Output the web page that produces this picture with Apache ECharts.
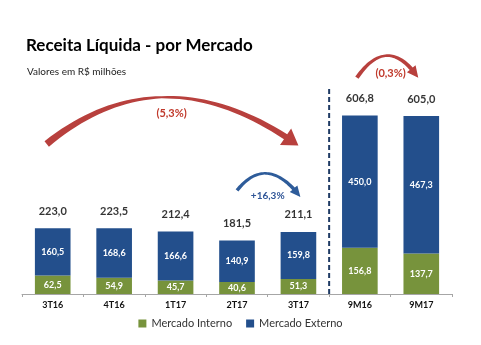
<!DOCTYPE html>
<html>
<head>
<meta charset="utf-8">
<script src="https://cdn.jsdelivr.net/npm/echarts@6/dist/echarts.min.js"></script>
<style>
  html, body { margin: 0; padding: 0; background: #fff; }
  #chart { width: 481px; height: 345px; }
</style>
</head>
<body>
<div id="chart"></div>
<script>
// Receita líquida por mercado (R$ milhões)
const categories = ['3T16', '4T16', '1T17', '2T17', '3T17', '9M16', '9M17'];
const mercadoInterno = [62.5, 54.9, 45.7, 40.6, 51.3, 156.8, 137.7];
const mercadoExterno = [160.5, 168.6, 166.6, 140.9, 159.8, 450.0, 467.3];
const totais = [223.0, 223.5, 212.4, 181.5, 211.1, 606.8, 605.0];

// Variações destacadas com setas
const variacoes = [
  { texto: '(5,3%)', de: 0, para: 4, cor: '#B8403D', corTexto: '#C0392B' },
  { texto: '+16,3%', de: 3, para: 4, cor: '#2E5C9A', corTexto: '#2F5597' },
  { texto: '(0,3%)', de: 5, para: 6, cor: '#B8403D', corTexto: '#C0392B' }
];

const VERDE = '#77933C';
const AZUL = '#234F8C';
const FONTE = 'Lato, "Open Sans", sans-serif';

const fmt = v => v.toFixed(1).replace('.', ',');

const chart = echarts.init(document.getElementById('chart'), null, { renderer: 'canvas' });

chart.setOption({
  animation: false,
  backgroundColor: '#ffffff',
  title: [
    {
      text: 'Receita Líquida - por Mercado',
      left: 21, top: 32,
      textStyle: { fontFamily: FONTE, fontSize: 17, fontWeight: 'bold', color: '#000' }
    },
    {
      text: 'Valores em R$ milhões',
      left: 22, top: 62,
      textStyle: { fontFamily: FONTE, fontSize: 10, fontWeight: 'normal', color: '#222' }
    }
  ],
  legend: {
    data: ['Mercado Interno', 'Mercado Externo'],
    bottom: 11,
    left: 'center',
    itemWidth: 8, itemHeight: 8,
    itemGap: 14,
    icon: 'rect',
    textStyle: { fontFamily: FONTE, fontSize: 11, color: '#333' }
  },
  grid: { left: 22, right: 29, top: 88, bottom: 51 },
  xAxis: {
    type: 'category',
    data: categories,
    axisLine: { lineStyle: { color: '#a6a6a6', width: 1 } },
    axisTick: { show: true, length: 3, lineStyle: { color: '#a6a6a6' } },
    axisLabel: { fontFamily: FONTE, fontSize: 9, fontWeight: 'bold', color: '#111', margin: 7 }
  },
  yAxis: {
    type: 'value', min: 0, max: 700,
    show: false, splitLine: { show: false }
  },
  series: [
    {
      name: 'Mercado Interno', type: 'bar', stack: 'receita',
      data: mercadoInterno, barWidth: '58%',
      itemStyle: { color: VERDE },
      label: {
        show: true, position: 'inside', formatter: p => fmt(p.value),
        color: '#fff', fontFamily: FONTE, fontSize: 9, fontWeight: 'bold'
      }
    },
    {
      name: 'Mercado Externo', type: 'bar', stack: 'receita',
      data: mercadoExterno, barWidth: '58%',
      itemStyle: { color: AZUL },
      label: {
        show: true, position: 'inside', formatter: p => fmt(p.value),
        color: '#fff', fontFamily: FONTE, fontSize: 9, fontWeight: 'bold'
      }
    },
    {
      name: 'Total', type: 'scatter',
      data: totais, symbolSize: 1,
      itemStyle: { color: 'rgba(0,0,0,0)' },
      label: {
        show: true, position: 'top', distance: 11, formatter: p => fmt(p.value),
        color: '#000', fontFamily: FONTE, fontSize: 11, fontWeight: 'bold'
      },
      silent: true
    }
  ]
});

// Conversão de coordenadas de dados para pixels
const pt = (i, v) => chart.convertToPixel({ xAxisIndex: 0, yAxisIndex: 0 }, [i, v]);

// Seta curva afunilada (curva quadrática com ponta triangular)
function seta(p0, c, p2, w0, wm, w1, headLen, headW) {
  const q = t => [
    (1 - t) * (1 - t) * p0[0] + 2 * (1 - t) * t * c[0] + t * t * p2[0],
    (1 - t) * (1 - t) * p0[1] + 2 * (1 - t) * t * c[1] + t * t * p2[1]
  ];
  const d = t => [
    2 * (1 - t) * (c[0] - p0[0]) + 2 * t * (p2[0] - c[0]),
    2 * (1 - t) * (c[1] - p0[1]) + 2 * t * (p2[1] - c[1])
  ];
  let L = 0, prev = q(0);
  for (let i = 1; i <= 60; i++) {
    const cur = q(i / 60);
    L += Math.hypot(cur[0] - prev[0], cur[1] - prev[1]);
    prev = cur;
  }
  const tEnd = 1 - headLen / L;
  const w = t => {
    const m = 0.5 * tEnd;
    if (t < m) { const s = t / m; return w0 + (wm - w0) * s; }
    const s = (t - m) / (tEnd - m);
    return wm + (w1 - wm) * s;
  };
  const left = [], right = [];
  const N = 40;
  for (let i = 0; i <= N; i++) {
    const t = tEnd * i / N;
    const p = q(t), dv = d(t);
    const len = Math.hypot(dv[0], dv[1]);
    const n = [-dv[1] / len, dv[0] / len];
    const hw = w(t) / 2;
    left.push([p[0] + n[0] * hw, p[1] + n[1] * hw]);
    right.push([p[0] - n[0] * hw, p[1] - n[1] * hw]);
  }
  const pb = q(tEnd);
  const tip = [p2[0], p2[1]];
  const dir = [tip[0] - pb[0], tip[1] - pb[1]];
  const dl = Math.hypot(dir[0], dir[1]);
  const nn = [-dir[1] / dl, dir[0] / dl];
  const hl = [pb[0] + nn[0] * headW / 2, pb[1] + nn[1] * headW / 2];
  const hr = [pb[0] - nn[0] * headW / 2, pb[1] - nn[1] * headW / 2];
  return left.concat([hl, tip, hr], right.reverse());
}

function desenhar() {
  const graphics = [];

  // Separador entre trimestres e acumulado de 9 meses
  const a = pt(4, 0), b = pt(5, 0);
  const xSep = (a[0] + b[0]) / 2;
  graphics.push({
    type: 'line',
    shape: { x1: xSep, y1: pt(0, 700)[1] + 1, x2: xSep, y2: a[1] + 2 },
    style: { stroke: '#1F3B64', lineWidth: 2, lineDash: [5, 3] },
    silent: true
  });

  // Seta grande: 3T16 -> 3T17
  {
    const p0 = pt(0, 510); p0[0] -= 6;
    const p2 = pt(4, 505);
    const c = [p0[0] + 0.46 * (p2[0] - p0[0]), pt(0, 830)[1]];
    graphics.push({
      type: 'polygon', shape: { points: seta(p0, c, p2, 7, 2.2, 6, 13, 20) },
      style: { fill: variacoes[0].cor }, silent: true
    });
    const lp = pt(2, 612);
    graphics.push({
      type: 'text', x: lp[0] - 4, y: lp[1],
      style: { text: variacoes[0].texto, fill: variacoes[0].corTexto, font: 'bold 11px ' + FONTE, align: 'center', verticalAlign: 'middle' },
      silent: true
    });
  }

  // Seta: 2T17 -> 3T17
  {
    const p0 = pt(3, 352);
    const p2 = pt(4, 330); p2[0] += 2;
    const c = [(p0[0] + p2[0]) / 2 - 2, pt(0, 478)[1]];
    graphics.push({
      type: 'polygon', shape: { points: seta(p0, c, p2, 3.5, 2.5, 3.5, 8, 10) },
      style: { fill: variacoes[1].cor }, silent: true
    });
    const lp = [(pt(3, 0)[0] + pt(4, 0)[0]) / 2, pt(0, 335)[1]];
    graphics.push({
      type: 'text', x: lp[0], y: lp[1],
      style: { text: variacoes[1].texto, fill: variacoes[1].corTexto, font: 'bold 10px ' + FONTE, align: 'center', verticalAlign: 'middle' },
      silent: true
    });
  }

  // Seta: 9M16 -> 9M17
  {
    const p0 = pt(5, 735); p0[0] -= 3;
    const p2 = pt(6, 735); p2[0] -= 3;
    const c = [(p0[0] + p2[0]) / 2, pt(0, 885)[1]];
    graphics.push({
      type: 'polygon', shape: { points: seta(p0, c, p2, 4, 2.5, 4, 9, 11) },
      style: { fill: variacoes[2].cor }, silent: true
    });
    const lp = [(pt(5, 0)[0] + pt(6, 0)[0]) / 2, pt(0, 749)[1]];
    graphics.push({
      type: 'text', x: lp[0], y: lp[1],
      style: { text: variacoes[2].texto, fill: variacoes[2].corTexto, font: 'bold 11px ' + FONTE, align: 'center', verticalAlign: 'middle' },
      silent: true
    });
  }

  chart.setOption({ graphic: graphics });
}

desenhar();
</script>
</body>
</html>
